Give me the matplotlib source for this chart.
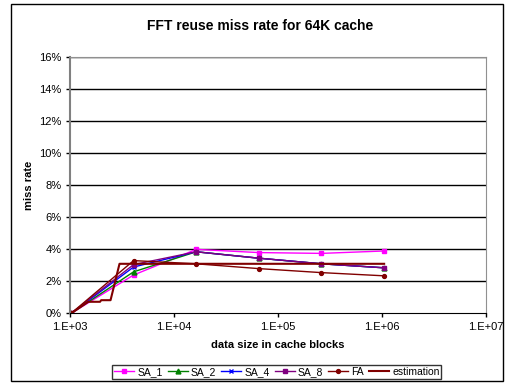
import numpy as np
import matplotlib.pyplot as plt
from matplotlib.patches import Rectangle
from matplotlib.ticker import FixedLocator, NullLocator

plt.rcParams['font.family'] = ['Liberation Sans', 'DejaVu Sans']

# data size in cache blocks
tamanhos = [1024, 4096, 16384, 65536, 262144, 1048576]

# miss rate (%)
sa_1 = [0, 2.4, 4.0, 3.8, 3.75, 3.9]
sa_2 = [0, 2.6, 3.85, 3.45, 3.1, 2.85]
sa_4 = [0, 2.9, 3.85, 3.45, 3.1, 2.85]
sa_8 = [0, 3.05, 3.85, 3.45, 3.1, 2.85]
fa = [0, 3.3, 3.1, 2.8, 2.55, 2.35]

est_x = [1024, 1500, 1950, 2000, 2460, 3000, 1048576]
est_y = [0, 0.73, 0.73, 0.83, 0.83, 3.1, 3.1]

yticks = [0, 2, 4, 6, 8, 10, 12, 14, 16]
xticks = [1e3, 1e4, 1e5, 1e6, 1e7]
xlabels = ['1.E+03', '1.E+04', '1.E+05', '1.E+06', '1.E+07']

fig = plt.figure(figsize=(5.1, 3.83), dpi=100)
ax = fig.add_axes([0.137, 0.1815, 0.816, 0.6695])

ax.plot(tamanhos, sa_1, color='#FF00FF', marker='s', ms=3, lw=1, label='SA_1')
ax.plot(tamanhos, sa_2, color='#008000', marker='^', ms=3.5, lw=1, label='SA_2')
ax.plot(tamanhos, sa_4, color='#0000FF', marker='x', ms=3.5, mew=1, lw=1, label='SA_4')
ax.plot(tamanhos, sa_8, color='#800080', marker='s', ms=3, lw=1, label='SA_8')
ax.plot(tamanhos, fa, color='#800000', marker='o', ms=2.8, lw=1, label='FA')
ax.plot(est_x, est_y, color='#800000', lw=1.5, label='estimation')

ax.set_xscale('log')
ax.set_xlim(1e3, 1e7)
ax.set_ylim(0, 16)
ax.xaxis.set_major_locator(FixedLocator(xticks))
ax.xaxis.set_minor_locator(NullLocator())
ax.set_xticklabels(xlabels)
ax.set_yticks(yticks)
ax.set_yticklabels([f'{v}%' for v in yticks])
ax.tick_params(labelsize=8, length=3, width=1, pad=3)

for v in yticks[1:]:
    ax.axhline(v, color='black', lw=1, zorder=0)

ax.spines['left'].set_color('#808080')
ax.spines['left'].set_linewidth(1.5)
ax.spines['bottom'].set_color('black')
ax.spines['top'].set_color('#909090')
ax.spines['right'].set_color('#909090')

fig.text(0.51, 1 - 26 / 383, 'FFT reuse miss rate for 64K cache', fontsize=10,
         fontweight='bold', ha='center', va='center')
ax.set_xlabel('data size in cache blocks', fontsize=8, fontweight='bold', labelpad=6)
ax.set_ylabel('miss rate', fontsize=8, fontweight='bold', labelpad=4)

leg = fig.legend(loc='center', bbox_to_anchor=(0.543, 0.029), ncol=6, fontsize=7.5,
                 frameon=True, fancybox=False, edgecolor='black', handlelength=1.9,
                 handletextpad=0.3, columnspacing=0.5, borderpad=0.2)
leg.get_frame().set_linewidth(1)

fig.patches.append(Rectangle((11 / 510, 2 / 383), 492 / 510, 377 / 383,
                             transform=fig.transFigure, fill=False,
                             edgecolor='black', lw=1))

fig.savefig('out.png', dpi=100)
